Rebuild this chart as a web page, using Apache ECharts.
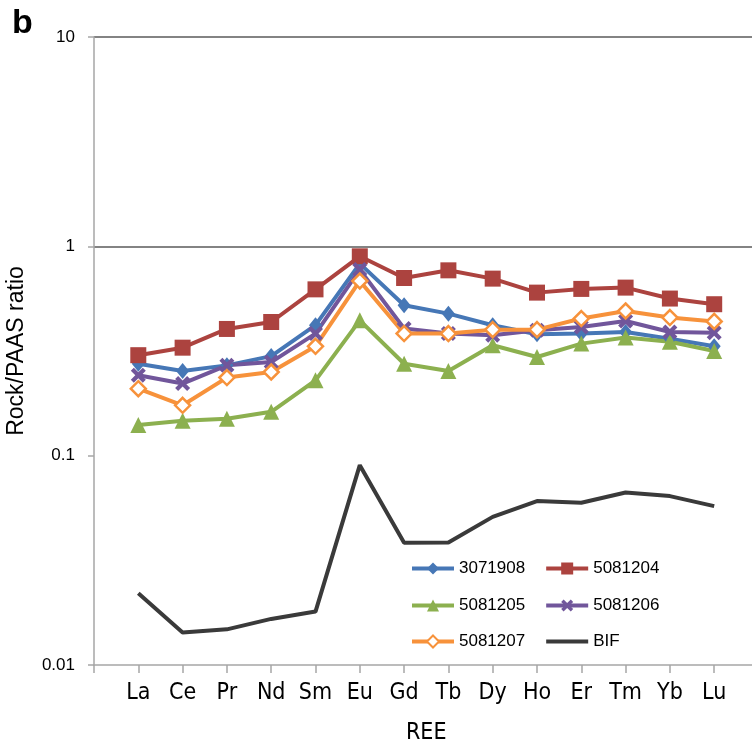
<!DOCTYPE html>
<html>
<head>
<meta charset="utf-8">
<title>Rock/PAAS REE pattern</title>
<script src="https://cdn.jsdelivr.net/npm/echarts@6/dist/echarts.min.js"></script>
<style>
  html, body { margin: 0; padding: 0; background: #fff; }
  #chart { width: 752px; height: 747px; }
</style>
</head>
<body>
<div id="chart"></div>
<script>
// REE categories on the x axis
const categories = ['La', 'Ce', 'Pr', 'Nd', 'Sm', 'Eu', 'Gd', 'Tb', 'Dy', 'Ho', 'Er', 'Tm', 'Yb', 'Lu'];

// PAAS-normalised values
const s3071908 = [0.275, 0.254, 0.270, 0.299, 0.420, 0.827, 0.523, 0.477, 0.420, 0.380, 0.383, 0.390, 0.362, 0.333];
const s5081204 = [0.302, 0.328, 0.403, 0.435, 0.623, 0.896, 0.706, 0.768, 0.701, 0.601, 0.626, 0.635, 0.563, 0.529];
const s5081205 = [0.140, 0.147, 0.150, 0.162, 0.229, 0.443, 0.275, 0.254, 0.337, 0.296, 0.343, 0.367, 0.350, 0.316];
const s5081206 = [0.242, 0.221, 0.270, 0.280, 0.383, 0.774, 0.405, 0.383, 0.376, 0.397, 0.412, 0.440, 0.390, 0.386];
const s5081207 = [0.209, 0.174, 0.236, 0.251, 0.333, 0.683, 0.383, 0.383, 0.400, 0.400, 0.452, 0.491, 0.457, 0.438];
const bif      = [0.0220, 0.0143, 0.0148, 0.0166, 0.0180, 0.0901, 0.0384, 0.0385, 0.0510, 0.0607, 0.0596, 0.0667, 0.0641, 0.0574];

// y tick values (log axis)
const yTicks = [0.01, 0.1, 1, 10];

const chart = echarts.init(document.getElementById('chart'));

// categories sit on ticks 1..14, tick 0 is the axis origin
const toPoints = arr => arr.map((v, i) => [i + 1, v]);

const crossPath = 'path://M2,0 L5,3 L8,0 L10,2 L7,5 L10,8 L8,10 L5,7 L2,10 L0,8 L3,5 L0,2 Z';
const narrowFont = '"DejaVu Sans Condensed", "Liberation Sans", sans-serif';

function lineSeries(name, data, color, symbol, size, extra) {
  return Object.assign({
    name: name,
    type: 'line',
    data: toPoints(data),
    symbol: symbol,
    symbolSize: size,
    lineStyle: { color: color, width: 4 },
    itemStyle: { color: color },
    animation: false
  }, extra || {});
}

const legendText = { fontFamily: 'Liberation Sans', fontSize: 17, color: '#000' };
const legendRow = (names, top) => ({
  data: names,
  left: 405,
  top: top,
  itemWidth: 42,
  itemHeight: 15,
  itemGap: 19,
  lineStyle: { width: 4 },
  textStyle: legendText,
  selectedMode: false
});

const option = {
  title: {
    text: 'b',
    left: 7,
    top: 2,
    textStyle: { fontFamily: 'Liberation Sans', fontWeight: 'bold', fontSize: 34, color: '#000' }
  },
  grid: { left: 94, right: -6.5, top: 37, bottom: 82, outerBoundsMode: 'none' },
  legend: [
    legendRow(['3071908', '5081204'], 555),
    legendRow(['5081205', '5081206'], 592),
    legendRow(['5081207', { name: 'BIF', itemStyle: { opacity: 0 } }], 628)
  ],
  xAxis: {
    type: 'value',
    min: 0,
    max: 15,
    interval: 1,
    name: 'REE',
    nameLocation: 'middle',
    nameGap: 57,
    nameTextStyle: { fontFamily: narrowFont, fontSize: 23, color: '#000' },
    axisLine: { lineStyle: { color: '#a6a6a6', width: 1.5 } },
    axisTick: { length: 8, lineStyle: { color: '#a6a6a6', width: 1.5 } },
    axisLabel: {
      margin: 17,
      fontFamily: narrowFont,
      fontSize: 23,
      color: '#000',
      formatter: v => categories[v - 1] || ''
    },
    splitLine: { show: false }
  },
  yAxis: {
    type: 'log',
    logBase: 10,
    min: yTicks[0],
    max: yTicks[yTicks.length - 1],
    name: 'Rock/PAAS ratio',
    nameLocation: 'middle',
    nameGap: 66,
    nameTextStyle: { fontFamily: 'Liberation Sans', fontSize: 23, color: '#000' },
    axisLine: { show: true, lineStyle: { color: '#a6a6a6', width: 1.5 } },
    axisTick: { show: true, length: 6, lineStyle: { color: '#a6a6a6', width: 1.5 } },
    axisLabel: {
      margin: 19,
      fontFamily: 'Liberation Sans',
      fontSize: 17,
      color: '#000',
      formatter: v => String(+v.toPrecision(3))
    },
    // only the 1 and 10 gridlines are drawn in the original
    splitLine: {
      show: true,
      lineStyle: { color: ['rgba(0,0,0,0)', 'rgba(0,0,0,0)', '#5a5a5a', '#5a5a5a'], width: 1.5 }
    }
  },
  series: [
    lineSeries('3071908', s3071908, '#4677b6', 'diamond', [13, 16]),
    lineSeries('5081204', s5081204, '#ac433f', 'rect', 16),
    lineSeries('5081205', s5081205, '#8cb04f', 'triangle', 16),
    lineSeries('5081206', s5081206, '#71569b', crossPath, 15),
    lineSeries('5081207', s5081207, '#f7923b', 'diamond', 15, {
      itemStyle: { color: '#fff', borderColor: '#f7923b', borderWidth: 2.5 }
    }),
    lineSeries('BIF', bif, '#3a3a3a', 'none', 0)
  ]
};

chart.setOption(option);
</script>
</body>
</html>
